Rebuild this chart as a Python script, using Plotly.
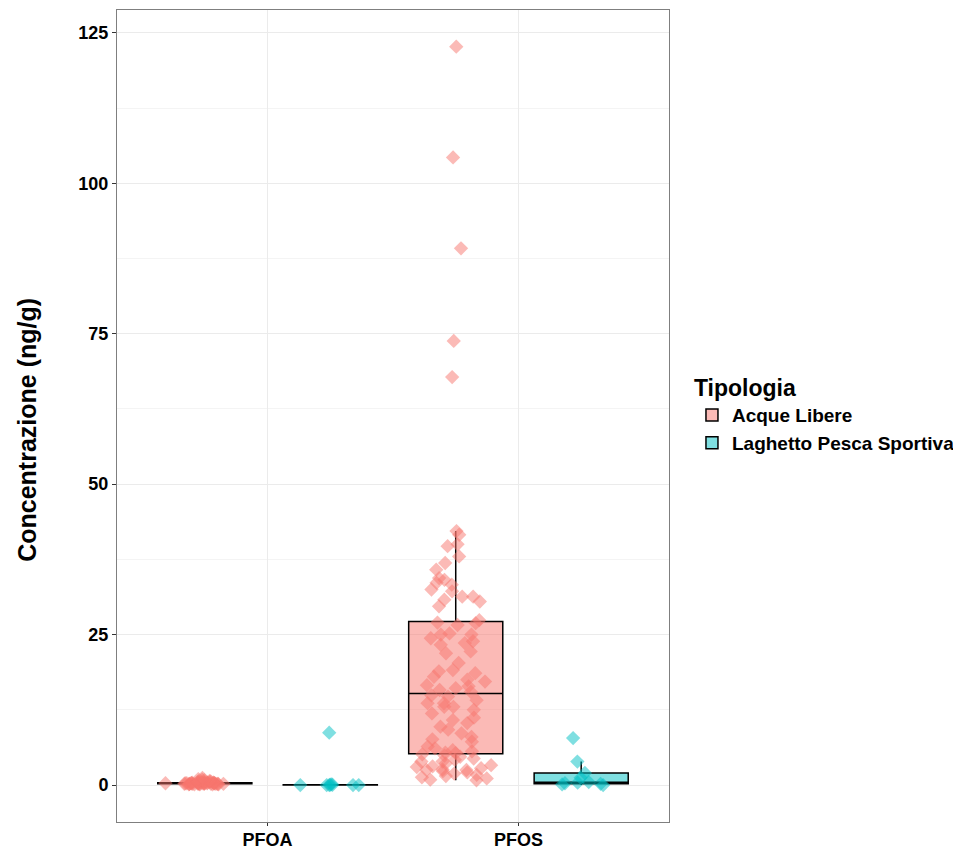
import plotly.graph_objects as go

categories = ["PFOA", "PFOS"]
groups = ["Acque Libere", "Laghetto Pesca Sportiva"]
colors = ["#F8766D", "#00BFC4"]
y_title = "Concentrazione (ng/g)"
legend_title = "Tipologia"

pfoa_acque = [0.1, 0.2, 0.3, 0.2, 0.4, 0.3, 0.5, 0.2, 0.1, 0.3, 0.6, 0.2, 0.4, 0.3, 0.8,
              0.2, 0.3, 0.1, 0.5, 0.3, 0.2, 0.4, 1.2, 0.3, 0.2, 0.7, 0.3, 0.1, 0.4, 0.2,
              0.3, 0.9, 0.2, 0.3, 0.5, 0.2, 0.1, 0.3, 0.4, 0.6, 0.2, 0.3, 1.0, 0.2, 0.3]
pfoa_laghetto = [0.0, 0.0, 0.05, 0.0, 0.1, 0.0, 0.0, 0.05, 8.7]
pfos_acque = [122.7, 104.3, 89.2, 73.8, 67.8, 42.2, 41.6, 40.0, 39.7, 38.0, 36.9, 35.8,
              34.4, 34.1, 33.6, 33.3, 32.5, 32.2, 31.3, 31.3, 30.8, 30.5, 29.7, 27.4,
              27.0, 26.9, 26.6, 25.2, 25.0, 25.0, 24.4, 23.9, 23.6, 23.3, 22.2, 21.9,
              20.3, 19.1, 18.9, 18.6, 18.0, 17.5, 17.2, 16.6, 16.4, 16.1, 15.8, 15.5,
              14.9, 14.7, 14.1, 13.6, 13.6, 13.0, 13.0, 12.5, 11.9, 11.2, 10.8, 10.3,
              9.7, 9.2, 8.6, 8.0, 7.6, 7.2, 6.4, 6.1, 5.8, 5.6, 5.4, 5.3,
              5.1, 4.9, 4.7, 4.4, 4.2, 3.9, 3.9, 3.6, 3.3, 3.1, 3.0, 2.8,
              2.6, 2.5, 2.5, 2.3, 2.1, 1.9, 1.7, 1.5, 1.3, 1.1, 0.9, 0.8]
pfos_laghetto = [0.0, 0.1, 0.2, 0.3, 0.4, 0.5, 1.2, 2.0, 3.9, 7.8]

data = {
    "Acque Libere": {"PFOA": pfoa_acque, "PFOS": pfos_acque},
    "Laghetto Pesca Sportiva": {"PFOA": pfoa_laghetto, "PFOS": pfos_laghetto},
}
jitters = {
    ("Acque Libere", "PFOA"): 1.0, ("Acque Libere", "PFOS"): 0.85,
    ("Laghetto Pesca Sportiva", "PFOA"): 1.0, ("Laghetto Pesca Sportiva", "PFOS"): 0.9,
}

def rgba(hexc, a):
    h = hexc.lstrip("#")
    r, g, b = int(h[0:2], 16), int(h[2:4], 16), int(h[4:6], 16)
    return f"rgba({r},{g},{b},{a})"

fig = go.Figure()
for grp, col in zip(groups, colors):
    for j, cat in enumerate(categories):
        vals = data[grp][cat]
        fig.add_trace(go.Box(
            x=[cat] * len(vals), y=vals, name=grp,
            legendgroup=grp, offsetgroup=grp, showlegend=(j == 0),
            boxpoints="all", jitter=jitters[(grp, cat)], pointpos=0,
            fillcolor=rgba(col, 0.5),
            line=dict(color="black", width=1.5),
            marker=dict(symbol="diamond", size=11, color=rgba(col, 0.5),
                        line=dict(width=0)),
            whiskerwidth=0,
        ))

font_family = "Liberation Sans, Arial, sans-serif"
# page body has an 8px default margin; figure size/margins compensate for it
fig.update_layout(
    width=953, height=841,
    boxmode="group", boxgap=0.0, boxgroupgap=0.25,
    paper_bgcolor="white", plot_bgcolor="white",
    margin=dict(l=109, r=292, t=2, b=27),
    font=dict(family=font_family, color="black"),
    legend=dict(
        title=dict(text="<b>" + legend_title + "</b>", font=dict(size=23, color="black")),
        font=dict(size=19, color="black", weight="bold"),
        xref="container", yref="container",
        x=0.7177, xanchor="left", y=0.517, yanchor="middle",
        tracegroupgap=0,
    ),
    xaxis=dict(
        range=[-0.6, 1.6], automargin=False,
        showgrid=True, gridcolor="#EBEBEB", gridwidth=1,
        showline=True, mirror=True, linecolor="#7F7F7F", linewidth=1,
        ticks="outside", ticklen=3, tickcolor="#333333",
        tickfont=dict(size=18, color="black", weight="bold"),
        ticklabelstandoff=-2,
        zeroline=False,
    ),
    yaxis=dict(
        range=[-6.14, 128.8], automargin=False,
        tickvals=[0, 25, 50, 75, 100, 125],
        showgrid=True, gridcolor="#EBEBEB", gridwidth=1,
        minor=dict(tickvals=[12.5, 37.5, 62.5, 87.5, 112.5], showgrid=True,
                   gridcolor="#F4F4F4", gridwidth=1, ticks=""),
        showline=True, mirror=True, linecolor="#7F7F7F", linewidth=1,
        ticks="outside", ticklen=4, tickcolor="#333333",
        tickfont=dict(size=18, color="black", weight="bold"),
        zeroline=False,
    ),
    annotations=[dict(
        text="<b>" + y_title + "</b>", textangle=-90,
        xref="paper", yref="paper", x=-0.163, y=0.483,
        xanchor="center", yanchor="middle", showarrow=False,
        font=dict(size=25, color="black"),
    )],
)

fig.write_html("out.html")
